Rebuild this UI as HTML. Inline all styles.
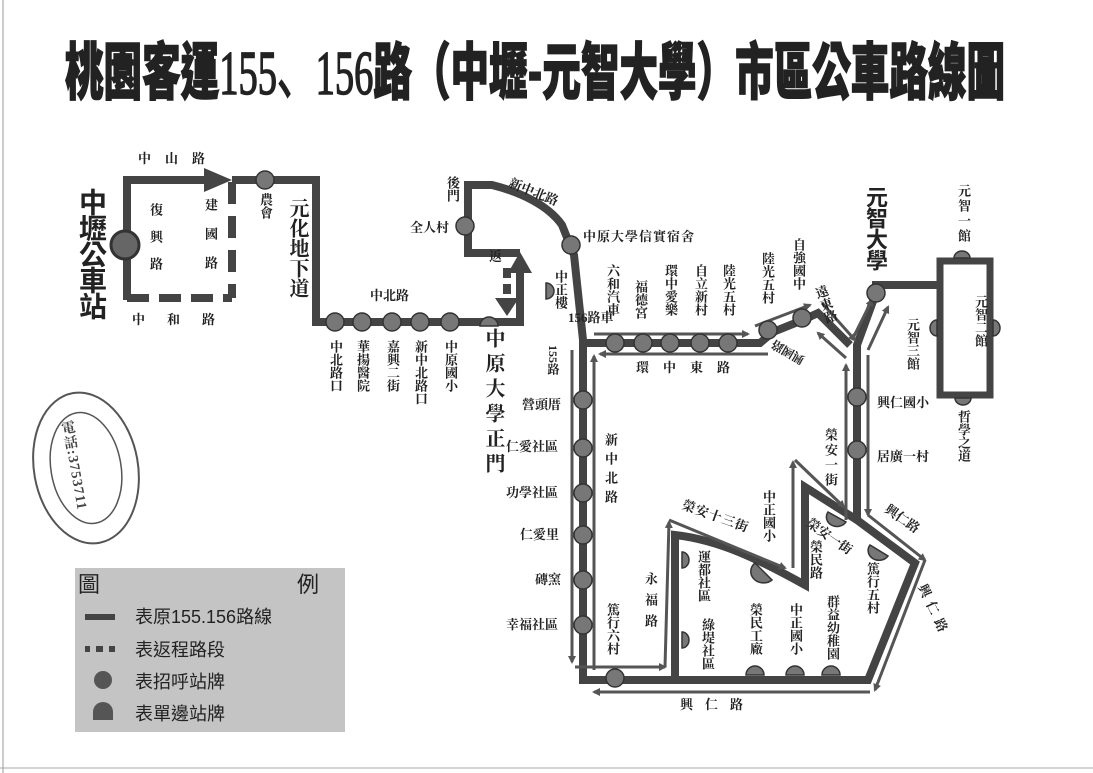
<!DOCTYPE html>
<html><head><meta charset="utf-8">
<style>
html,body{margin:0;padding:0;background:#fff;}
#w{position:relative;width:1093px;height:773px;overflow:hidden;background:#fff;font-family:"Liberation Serif","Noto Serif CJK SC","Noto Sans CJK TC",serif;color:#222;}
svg{position:absolute;left:0;top:0;}
.v{position:absolute;writing-mode:vertical-rl;font-size:13px;line-height:14px;white-space:nowrap;color:#222;font-weight:bold;}
.h{position:absolute;font-size:13px;line-height:14px;white-space:nowrap;color:#222;font-weight:bold;}
.b{font-family:"Noto Sans CJK TC",sans-serif;font-weight:bold;}
.n{font-weight:normal;}
</style></head><body><div id="w">
<svg width="1093" height="773" viewBox="0 0 1093 773">
<defs>
<marker id="ar" markerWidth="8" markerHeight="8" refX="6" refY="4" orient="auto" markerUnits="userSpaceOnUse"><path d="M0,0 L8,4 L0,8 Z" fill="#555"/></marker>
</defs>
<line x1="3" y1="0" x2="3" y2="773" stroke="#999" stroke-width="1"/>
<line x1="0" y1="768" x2="1093" y2="768" stroke="#aaa" stroke-width="1"/>
<text x="65" y="94" font-family="Noto Sans CJK TC,sans-serif" font-weight="900" font-size="62" textLength="940" lengthAdjust="spacingAndGlyphs" fill="#222" stroke="#222" stroke-width="1.5">桃園客運<tspan font-family="Liberation Serif" font-weight="normal">155、156</tspan>路（中壢-元智大學）市區公車路線圖</text>

<g fill="none" stroke="#444" stroke-width="8" stroke-linejoin="miter">
<polyline points="127,300 127,180 212,180"/>
<line x1="232" y1="182" x2="232" y2="298" stroke-dasharray="22,12"/>
<line x1="127" y1="298" x2="232" y2="298" stroke-dasharray="22,10"/>
<polyline points="232,180 316,180 316,322 520,322 520,272"/>
<path d="M520,253 L468,253 L468,185 L492,185 C520,192 548,205 562,225 L574,255 L583,340 L583,680 L868,680 L915,563 L857,520 L857,345 L876,293"/>
<polyline points="876,293 876,285 937,285"/>
<polyline points="583,343 760,343 773,332 803,320 818,313 850,345"/>
<path d="M857,520 L805,487 L805,585 C760,560 720,540 675,535 L675,680"/>
<rect x="940" y="261" width="50" height="134" stroke-width="7"/>
</g>
<path d="M204,168 L232,180 L204,192 Z" fill="#444"/>
<path d="M508,273 L520,252 L532,273 Z" fill="#444"/>
<rect x="503" y="268" width="8" height="10" fill="#444"/>
<rect x="503" y="284" width="8" height="10" fill="#444"/>
<path d="M495,298 L519,298 L507,316 Z" fill="#444"/>
<g stroke="#555" stroke-width="3" fill="none" marker-end="url(#ar)">
<line x1="572" y1="350" x2="572" y2="662"/>
<line x1="594" y1="670" x2="594" y2="356"/>
<line x1="575" y1="667" x2="665" y2="667"/>
<line x1="870" y1="692" x2="594" y2="692"/>
<line x1="594" y1="334" x2="748" y2="334"/>
<line x1="768" y1="354" x2="600" y2="354"/>
<line x1="755" y1="326" x2="810" y2="305"/>
<line x1="822" y1="303" x2="855" y2="340"/>
<line x1="846" y1="358" x2="818" y2="333"/>
<line x1="846" y1="520" x2="846" y2="365"/>
<line x1="868" y1="355" x2="868" y2="515"/>
<line x1="852" y1="340" x2="872" y2="300"/>
<line x1="868" y1="350" x2="888" y2="307"/>
<line x1="868" y1="515" x2="925" y2="560"/>
<line x1="925" y1="560" x2="875" y2="690"/>
<line x1="665" y1="667" x2="669" y2="522"/>
<line x1="669" y1="520" x2="785" y2="568"/>
<line x1="793" y1="568" x2="793" y2="462"/>
<line x1="795" y1="460" x2="844" y2="507"/>
</g>
<g fill="#777" stroke="#333" stroke-width="1.5">
<circle cx="125" cy="245" r="14" fill="#666" stroke-width="3"/>
<circle cx="265" cy="180" r="9"/>
<circle cx="335" cy="322" r="9"/><circle cx="362" cy="322" r="9"/><circle cx="392" cy="322" r="9"/><circle cx="420" cy="322" r="9"/><circle cx="450" cy="322" r="9"/>
<circle cx="465" cy="226" r="9"/>
<circle cx="571" cy="245" r="9"/>
<circle cx="583" cy="400" r="9"/><circle cx="583" cy="448" r="9"/><circle cx="583" cy="493" r="9"/><circle cx="583" cy="535" r="9"/><circle cx="583" cy="580" r="9"/><circle cx="583" cy="625" r="9"/>
<circle cx="615" cy="678" r="9"/>
<circle cx="615" cy="343" r="9"/><circle cx="643" cy="343" r="9"/><circle cx="670" cy="343" r="9"/><circle cx="700" cy="343" r="9"/><circle cx="728" cy="343" r="9"/>
<circle cx="768" cy="330" r="9"/><circle cx="802" cy="318" r="9"/>
<circle cx="876" cy="293" r="9"/>
<circle cx="857" cy="397" r="9"/><circle cx="857" cy="450" r="9"/>
</g>
<g fill="#777" stroke="#333" stroke-width="1.5">
<path d="M480,326 A9,9 0 0 1 498,326 Z"/>
<path d="M546,283 A8,8 0 0 1 546,299 Z"/>
<path d="M682,552 A7,8 0 0 1 682,568 Z"/>
<path d="M682,632 A7,8 0 0 1 682,648 Z"/>
<path d="M755,563 A10,9 0 0 0 772,580 Z"/>
<path d="M870,545 A10,9 0 0 0 888,556 Z"/>
<path d="M828,512 A10,9 0 0 0 846,522 Z"/>
<path d="M746,675 A9,9 0 0 1 764,675 Z"/>
<path d="M786,675 A9,9 0 0 1 804,675 Z"/>
<path d="M822,675 A9,9 0 0 1 840,675 Z"/>
<path d="M954,258 A8,7 0 0 1 970,258 Z"/>
<path d="M993,320 A7,8 0 0 1 993,336 Z"/>
<path d="M937,320 A7,8 0 0 0 937,336 Z"/>
<path d="M955,398 A8,7 0 0 0 971,398 Z"/>
</g>
<g transform="rotate(-10 86 468)" fill="none" stroke="#555">
<ellipse cx="86" cy="468" rx="52" ry="76" stroke-width="2"/>
<ellipse cx="86" cy="468" rx="35" ry="56" stroke-width="1.5"/>
</g>
<rect x="75" y="568" width="270" height="164" fill="#c4c4c4"/>
<rect x="85" y="614" width="30" height="6" fill="#444"/>
<rect x="85" y="646" width="5" height="6" fill="#444"/><rect x="96" y="646" width="7" height="6" fill="#444"/><rect x="109" y="646" width="6" height="6" fill="#444"/>
<circle cx="103" cy="680" r="9" fill="#555"/>
<path d="M93,720 L93,712 A10,10 0 0 1 113,712 L113,720 Z" fill="#555"/>
</svg>

<div class="h n" style="left:78px;top:570px;font-size:22px;line-height:26px;font-family:'Noto Sans CJK TC',sans-serif;">圖</div>
<div class="h n" style="left:297px;top:570px;font-size:22px;line-height:26px;font-family:'Noto Sans CJK TC',sans-serif;">例</div>
<div class="h n" style="left:135px;top:607px;font-size:18px;line-height:20px;font-family:'Liberation Sans','Noto Sans CJK TC',sans-serif;">表原155.156路線</div>
<div class="h n" style="left:135px;top:639px;font-size:18px;line-height:20px;font-family:'Noto Sans CJK TC',sans-serif;">表返程路段</div>
<div class="h n" style="left:135px;top:671px;font-size:18px;line-height:20px;font-family:'Noto Sans CJK TC',sans-serif;">表招呼站牌</div>
<div class="h n" style="left:135px;top:703px;font-size:18px;line-height:20px;font-family:'Noto Sans CJK TC',sans-serif;">表單邊站牌</div>

<div class="v" style="left:66px;top:420px;font-size:14px;transform:rotate(-10deg);color:#444;letter-spacing:1px;">電話:3753711</div>

<div class="h" style="left:138px;top:152px;letter-spacing:14px;">中山路</div>
<div class="h" style="left:132px;top:313px;letter-spacing:22px;">中和路</div>
<div class="v" style="left:148px;top:203px;letter-spacing:14px;">復興路</div>
<div class="v" style="left:203px;top:198px;letter-spacing:16px;">建國路</div>
<div class="v b" style="left:78px;top:188px;font-size:28px;line-height:30px;letter-spacing:-2px;">中壢公車站</div>
<div class="v" style="left:258px;top:193px;">農會</div>
<div class="v" style="left:286px;top:198px;font-size:20px;line-height:22px;">元化地下道</div>
<div class="h" style="left:370px;top:289px;">中北路</div>
<div class="v" style="left:328px;top:340px;">中北路口</div>
<div class="v" style="left:355px;top:340px;">華揚醫院</div>
<div class="v" style="left:385px;top:340px;">嘉興二街</div>
<div class="v" style="left:413px;top:340px;">新中北路口</div>
<div class="v" style="left:443px;top:340px;">中原國小</div>
<div class="v" style="left:482px;top:328px;font-size:20px;line-height:22px;letter-spacing:5px;">中原大學正門</div>
<div class="v" style="left:445px;top:176px;">後門</div>
<div class="h" style="left:410px;top:221px;">全人村</div>
<div class="h" style="left:489px;top:250px;">返</div>
<div class="v" style="left:553px;top:270px;">中正樓</div>
<div class="h" style="left:512px;top:176px;transform:rotate(22deg);transform-origin:left top;">新中北路</div>
<div class="h" style="left:583px;top:230px;letter-spacing:1px;">中原大學信實宿舍</div>
<div class="h" style="left:568px;top:311px;">156路車</div>
<div class="v" style="left:546px;top:345px;font-size:12px;">155路</div>
<div class="h" style="left:522px;top:398px;">營頭厝</div>
<div class="h" style="left:506px;top:440px;">仁愛社區</div>
<div class="h" style="left:506px;top:486px;">功學社區</div>
<div class="h" style="left:520px;top:528px;">仁愛里</div>
<div class="h" style="left:535px;top:573px;">磚窯</div>
<div class="h" style="left:506px;top:618px;">幸福社區</div>
<div class="v" style="left:603px;top:433px;letter-spacing:6px;">新中北路</div>
<div class="v" style="left:605px;top:264px;">六和汽車</div>
<div class="v" style="left:633px;top:280px;">福德宮</div>
<div class="v" style="left:663px;top:264px;">環中愛樂</div>
<div class="v" style="left:693px;top:264px;">自立新村</div>
<div class="v" style="left:721px;top:264px;">陸光五村</div>
<div class="v" style="left:760px;top:252px;">陸光五村</div>
<div class="v" style="left:791px;top:238px;">自強國中</div>
<div class="h" style="left:636px;top:361px;letter-spacing:14px;">環中東路</div>
<div class="v b" style="left:865px;top:186px;font-size:22px;line-height:24px;letter-spacing:-1px;">元智大學</div>
<div class="v" style="left:818px;top:285px;transform:rotate(-20deg);">遠東路</div>
<div class="h" style="left:770px;top:345px;transform:rotate(-150deg);font-size:12px;">興國路</div>
<div class="v" style="left:956px;top:184px;letter-spacing:2px;">元智一館</div>
<div class="v" style="left:973px;top:295px;">元智二館</div>
<div class="v" style="left:905px;top:318px;">元智三館</div>
<div class="h" style="left:877px;top:396px;">興仁國小</div>
<div class="v" style="left:956px;top:410px;">哲學之道</div>
<div class="h" style="left:877px;top:450px;">居廣一村</div>
<div class="v" style="left:823px;top:428px;letter-spacing:2px;">榮安一街</div>
<div class="h" style="left:890px;top:502px;transform:rotate(35deg);transform-origin:left top;">興仁路</div>
<div class="h" style="left:685px;top:498px;transform:rotate(20deg);transform-origin:left top;letter-spacing:1px;">榮安十三街</div>
<div class="v" style="left:761px;top:490px;">中正國小</div>
<div class="h" style="left:812px;top:516px;transform:rotate(35deg);transform-origin:left top;">榮安一街</div>
<div class="v" style="left:808px;top:540px;">榮民路</div>
<div class="v" style="left:865px;top:562px;">篤行五村</div>
<div class="h" style="left:928px;top:582px;transform:rotate(65deg);transform-origin:left top;letter-spacing:6px;">興仁路</div>
<div class="v" style="left:696px;top:550px;">運都社區</div>
<div class="v" style="left:643px;top:572px;letter-spacing:8px;">永福路</div>
<div class="v" style="left:605px;top:603px;">篤行六村</div>
<div class="v" style="left:700px;top:618px;">綠堤社區</div>
<div class="v" style="left:748px;top:603px;">榮民工廠</div>
<div class="v" style="left:788px;top:603px;">中正國小</div>
<div class="v" style="left:825px;top:595px;">群益幼稚園</div>
<div class="h" style="left:680px;top:698px;letter-spacing:12px;">興仁路</div>
</div></body></html>
